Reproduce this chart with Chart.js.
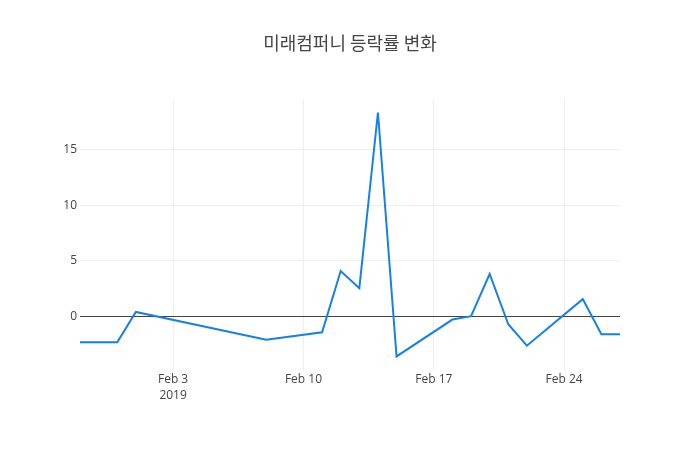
<!DOCTYPE html>
<html>
<head>
<meta charset="utf-8">
<script src="https://cdn.jsdelivr.net/npm/chart.js@4"></script>
<style>
  html, body { margin: 0; padding: 0; background: #fff; }
  #wrap { width: 700px; height: 450px; }
</style>
</head>
<body>
<div id="wrap"><canvas id="chart" width="700" height="450"></canvas></div>
<script>
const title = "미래컴퍼니 등락률 변화";
const dates = ["2019-01-29", "2019-01-31", "2019-02-01", "2019-02-08", "2019-02-11", "2019-02-12",
  "2019-02-13", "2019-02-14", "2019-02-15", "2019-02-18", "2019-02-19", "2019-02-20",
  "2019-02-21", "2019-02-22", "2019-02-25", "2019-02-26", "2019-02-27"];
const rates = [-2.35, -2.35, 0.39, -2.11, -1.45, 4.07, 2.53, 18.34, -3.62, -0.30, 0.0, 3.8,
  -0.72, -2.65, 1.54, -1.63, -1.63];
const tickDates = ["2019-02-03", "2019-02-10", "2019-02-17", "2019-02-24"];
const yTicks = [0, 5, 10, 15];

const months = ["Jan", "Feb", "Mar", "Apr", "May", "Jun", "Jul", "Aug", "Sep", "Oct", "Nov", "Dec"];
const toDay = s => Date.parse(s + "T00:00:00Z") / 86400000;
const fromDay = d => new Date(d * 86400000);

const points = dates.map((d, i) => ({ x: toDay(d), y: rates[i] }));
const font = { family: "'Open Sans', 'Noto Sans CJK KR', sans-serif", size: 12 };

new Chart(document.getElementById("chart"), {
  type: "line",
  data: {
    datasets: [{
      data: points,
      borderColor: "rgb(22,128,232)",
      borderWidth: 2,
      pointRadius: 0,
      tension: 0,
      fill: false
    }]
  },
  options: {
    responsive: false,
    animation: false,
    layout: { padding: 0 },
    plugins: {
      legend: { display: false },
      tooltip: { enabled: false },
      title: {
        display: true,
        text: title,
        color: "#444",
        font: { family: "'Noto Sans CJK KR', 'Open Sans', sans-serif", size: 18, weight: "normal", lineHeight: 1.2 },
        padding: { top: 32, bottom: 46 }
      }
    },
    scales: {
      x: {
        type: "linear",
        min: toDay(dates[0]),
        max: toDay(dates[dates.length - 1]),
        afterBuildTicks: s => { s.ticks = tickDates.map(t => ({ value: toDay(t) })); },
        afterFit: s => { s.height = 80; },
        grid: { color: "#eee", drawTicks: false },
        border: { display: false },
        ticks: {
          color: "#444",
          font: Object.assign({ lineHeight: 1.3 }, font),
          padding: 2,
          maxRotation: 0,
          autoSkip: false,
          callback: (v, i) => {
            const d = fromDay(v);
            const lbl = months[d.getUTCMonth()] + " " + d.getUTCDate();
            return i === 0 ? [lbl, String(d.getUTCFullYear())] : lbl;
          }
        }
      },
      y: {
        min: -4.84,
        max: 19.5,
        afterBuildTicks: s => { s.ticks = yTicks.map(v => ({ value: v })); },
        afterFit: s => { s.width = 80; },
        grid: {
          color: c => c.tick && c.tick.value === 0 ? "#444" : "#eee",
          drawTicks: false
        },
        border: { display: false },
        ticks: { color: "#444", font: font, padding: 3 }
      },
      yr: {
        position: "right",
        min: -4.84,
        max: 19.5,
        afterFit: s => { s.width = 80; },
        grid: { display: false },
        border: { display: false },
        ticks: { display: false }
      }
    }
  }
});
</script>
</body>
</html>
